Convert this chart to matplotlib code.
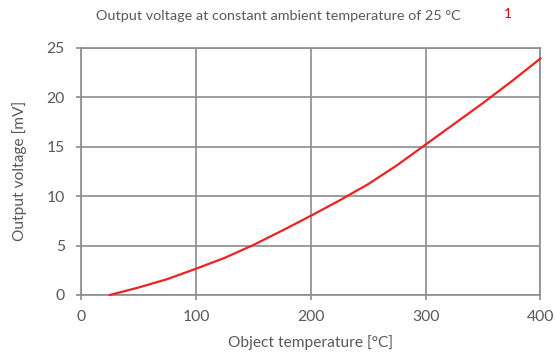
import matplotlib
matplotlib.use("Agg")
import matplotlib.pyplot as plt

temps = [25, 50, 75, 100, 125, 150, 175, 200, 225, 250, 275, 300, 325, 350, 375, 400]
voltage = [0.0, 0.75, 1.6, 2.65, 3.75, 5.05, 6.5, 8.0, 9.55, 11.2, 13.1, 15.2, 17.3, 19.4, 21.6, 23.9]
xticks = [0, 100, 200, 300, 400]
yticks = [0, 5, 10, 15, 20, 25]

plt.rcParams['font.family'] = ['Lato', 'DejaVu Sans']
txt = '#595959'
grid = '#8c8c8c'

fig = plt.figure(figsize=(5.56, 3.58), dpi=100)
ax = fig.add_axes([0.1457, 0.176, 0.8263, 0.691])
ax.plot(temps, voltage, color='#ee2222', lw=1.6, zorder=3, clip_on=False)
ax.set_xlim(0, 400)
ax.set_ylim(0, 25)
ax.set_xticks(xticks)
ax.set_yticks(yticks)
ax.grid(True, color=grid, lw=1.2)
for s in ax.spines.values():
    s.set_color(grid)
    s.set_linewidth(1.2)
ax.tick_params(axis='both', colors=grid, labelcolor=txt, labelsize=11.3, length=3.6, width=1.2)
ax.tick_params(axis='x', pad=7)
ax.tick_params(axis='y', pad=8)
ax.set_xlabel('Object temperature [°C]', color=txt, fontsize=11.2, labelpad=8)
ax.set_ylabel('Output voltage [mV]', color=txt, fontsize=11.2, labelpad=14)
fig.text(0.501, 0.955, 'Output voltage at constant ambient temperature of 25 °C', color=txt,
         fontsize=10.4, ha='center', va='center')
fig.text(0.914, 0.961, '1', color='#e00000', fontsize=9.5, ha='center', va='center')
fig.savefig('out.png', dpi=100)
